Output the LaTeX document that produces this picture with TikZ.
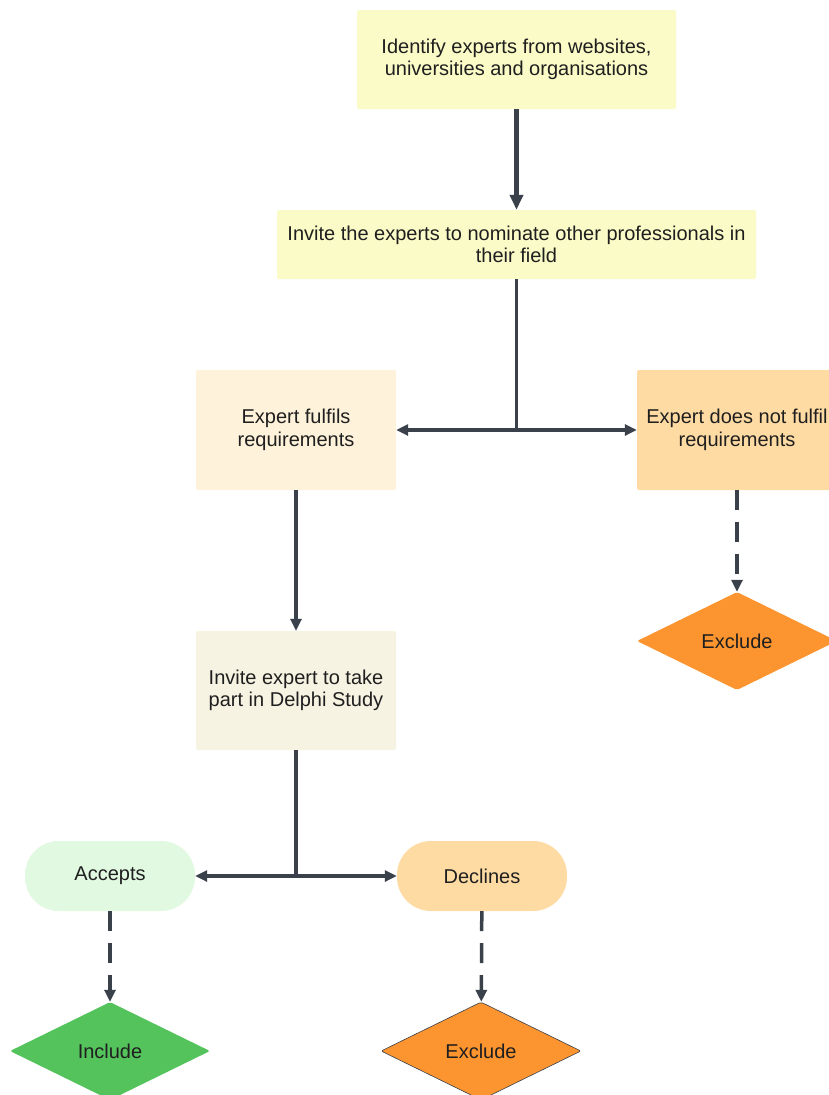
\documentclass[tikz,border=0pt]{standalone}
\usepackage{fontspec}
\setmainfont{Liberation Sans}
\usepackage{tikz}
\usetikzlibrary{arrows.meta,shapes.geometric}
\definecolor{linegray}{HTML}{3A414B}
\definecolor{textdark}{HTML}{1F1F1F}
\definecolor{paleyellow}{HTML}{FBFBC8}
\definecolor{cream}{HTML}{FFF2DA}
\definecolor{peach}{HTML}{FFDBA4}
\definecolor{beige}{HTML}{F7F3E2}
\definecolor{mint}{HTML}{E1F9E1}
\definecolor{dorange}{HTML}{FC9530}
\definecolor{dgreen}{HTML}{54C35C}

\begin{document}
\begin{tikzpicture}[x=1pt,y=-1pt,
  every node/.style={font=\fontsize{20}{22.5}\selectfont,text=textdark,align=center},
  box/.style={rectangle,rounded corners=2pt,inner sep=0pt},
  pill/.style={rectangle,rounded corners=34pt,inner sep=0pt,minimum width=170pt,minimum height=70pt},
  dia/.style={diamond,aspect=2,inner sep=0pt,minimum width=200pt,minimum height=98pt,rounded corners=2pt},
  link/.style={draw=linegray,line width=3.5pt},
  flow/.style={link,-{Triangle[length=12pt,width=11pt]}},
  dflow/.style={flow,dash pattern=on 20pt off 12pt}]
\useasboundingbox[fill=white] (0,0) rectangle (828,1095);

\node[box,fill=paleyellow,minimum width=319pt,minimum height=99pt] (ident) at (516.5,59.5) {Identify experts from websites,\\universities and organisations};
\node[box,fill=paleyellow,minimum width=479pt,minimum height=69pt] (invite) at (516.5,244.5) {Invite the experts to nominate other professionals in\\their field};
\node[box,fill=cream,minimum width=200pt,minimum height=120pt] (fulfil) at (296,430) {Expert fulfils\\requirements};
\node[box,fill=peach,minimum width=200pt,minimum height=120pt] (notfulfil) at (737,430) {Expert does not fulfil\\requirements};
\node[dia,fill=dorange] (exclA) at (737,641) {Exclude};
\node[box,fill=beige,minimum width=200pt,minimum height=119pt] (delphi) at (296,690.5) {Invite expert to take\\part in Delphi Study};
\node[pill,fill=mint] (accepts) at (110,876) {Accepts};
\node[pill,fill=peach] (declines) at (482,876) {Declines};
\node[dia,fill=dgreen] (incl) at (110,1051) {Include};
\node[dia,fill=dorange,draw=linegray,line width=0.6pt] (exclB) at (481,1051) {Exclude};

\coordinate (split1) at (invite.south |- fulfil.east);
\coordinate (split2) at (delphi.south |- accepts.east);

\draw[link,line width=5pt,-{Triangle[length=15pt,width=13pt]}] (ident) -- (invite);
\draw[link] (invite.south) -- (split1);
\draw[flow] (split1) -- (fulfil.east);
\draw[flow] (split1) -- (notfulfil.west);
\draw[dflow] (notfulfil) -- (exclA);
\draw[flow] (fulfil) -- (delphi);
\draw[link] (delphi.south) -- (split2);
\draw[flow] (split2) -- (accepts.east);
\draw[flow] (split2) -- (declines.west);
\draw[dflow] (accepts) -- (incl);
\draw[dflow] (declines) -- (exclB);
\end{tikzpicture}
\end{document}
